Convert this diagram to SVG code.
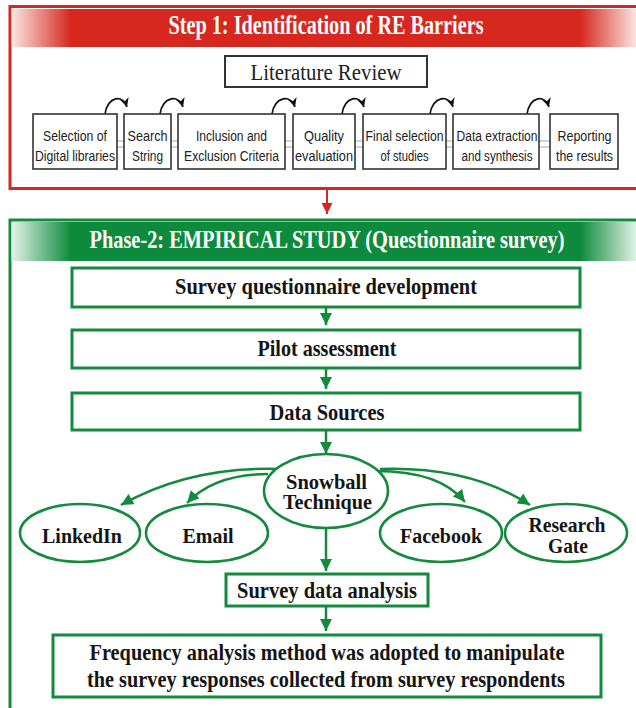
<svg xmlns="http://www.w3.org/2000/svg" width="636" height="708" viewBox="0 0 636 708">
  <defs>
    <linearGradient id="gRed" x1="0" y1="0" x2="1" y2="0">
      <stop offset="0" stop-color="#fbe6e2"/>
      <stop offset="0.095" stop-color="#d6281e"/>
      <stop offset="0.91" stop-color="#d6281e"/>
      <stop offset="1" stop-color="#fbe6e2"/>
    </linearGradient>
    <linearGradient id="gGreen" x1="0" y1="0" x2="1" y2="0">
      <stop offset="0" stop-color="#e3f3e8"/>
      <stop offset="0.095" stop-color="#0e8a3c"/>
      <stop offset="0.91" stop-color="#0e8a3c"/>
      <stop offset="1" stop-color="#e3f3e8"/>
    </linearGradient>
    <marker id="arrG" viewBox="0 0 10 10" refX="10" refY="5" markerUnits="userSpaceOnUse" markerWidth="13" markerHeight="12" orient="auto">
      <path d="M0,0 L10,5 L0,10 z" fill="#138a3c"/>
    </marker>
    <marker id="arrR" viewBox="0 0 10 10" refX="10" refY="5" markerUnits="userSpaceOnUse" markerWidth="12" markerHeight="11" orient="auto">
      <path d="M0,0 L10,5 L0,10 z" fill="#d6281e"/>
    </marker>
    <marker id="arrK" viewBox="0 0 10 10" refX="10" refY="5" markerUnits="userSpaceOnUse" markerWidth="9" markerHeight="9" orient="auto">
      <path d="M0,0 L10,5 L0,10 L3,5 z" fill="#111"/>
    </marker>
  </defs>
  <style>
    .title { font-family: "Liberation Serif", "Times New Roman", serif; font-weight: bold; fill: #ffffff; }
    .lit { font-family: "Liberation Serif", "Times New Roman", serif; font-size: 23px; fill: #222; }
    .sm { font-family: "Liberation Sans", Arial, sans-serif; font-size: 15.5px; fill: #222; }
    .bt { font-family: "Liberation Serif", "Times New Roman", serif; font-weight: bold; font-size: 23px; fill: #151515; }
    .et { font-family: "Liberation Serif", "Times New Roman", serif; font-weight: bold; font-size: 21px; fill: #151515; }
    .smbox { fill: #fff; stroke: #333; stroke-width: 1.6; }
    .gbox { fill: #fff; stroke: #138a3c; stroke-width: 3; }
    .gell { fill: #fff; stroke: #138a3c; stroke-width: 2.6; }
    .gline { stroke: #138a3c; stroke-width: 2.5; fill: none; }
    .kline { stroke: #111; stroke-width: 1.6; fill: none; }
    .dbl { stroke: #b5b5b5; stroke-width: 1.2; }
  </style>
  <rect width="636" height="708" fill="#ffffff"/>

  <!-- Step 1 container -->
  <g id="step1">
    <rect x="10" y="6.5" width="640" height="182" fill="#fff" stroke="#d6281e" stroke-width="3"/>
    <rect x="11.5" y="9" width="625" height="38" fill="url(#gRed)"/>
    <text class="title" x="326" y="34" font-size="27" text-anchor="middle" textLength="315" lengthAdjust="spacingAndGlyphs">Step 1: Identification of RE Barriers</text>
  </g>

  <g id="literature-review">
    <rect x="225" y="56" width="202" height="31" fill="#fff" stroke="#333" stroke-width="2"/>
    <text class="lit" x="326" y="80" text-anchor="middle" textLength="151" lengthAdjust="spacingAndGlyphs">Literature Review</text>
  </g>

  <!-- Step 1 connectors -->
  <g id="step1-connectors">
    <line class="dbl" x1="117" y1="141" x2="124" y2="141"/><line class="dbl" x1="117" y1="147" x2="124" y2="147"/>
    <line class="dbl" x1="171" y1="141" x2="178" y2="141"/><line class="dbl" x1="171" y1="147" x2="178" y2="147"/>
    <line class="dbl" x1="285" y1="141" x2="293" y2="141"/><line class="dbl" x1="285" y1="147" x2="293" y2="147"/>
    <line class="dbl" x1="355" y1="141" x2="363" y2="141"/><line class="dbl" x1="355" y1="147" x2="363" y2="147"/>
    <line class="dbl" x1="446" y1="141" x2="453" y2="141"/><line class="dbl" x1="446" y1="147" x2="453" y2="147"/>
    <line class="dbl" x1="539" y1="141" x2="550" y2="141"/><line class="dbl" x1="539" y1="147" x2="550" y2="147"/>
    <path class="kline" d="M105,114 C108,96 123,94 127,107" marker-end="url(#arrK)"/>
    <path class="kline" d="M160,114 C163,96 179,94 183,107" marker-end="url(#arrK)"/>
    <path class="kline" d="M272,114 C275,96 291,94 295,107" marker-end="url(#arrK)"/>
    <path class="kline" d="M342,114 C345,96 360,94 364,107" marker-end="url(#arrK)"/>
    <path class="kline" d="M430,114 C433,96 449,94 453,107" marker-end="url(#arrK)"/>
    <path class="kline" d="M527,114 C530,96 545,94 549,107" marker-end="url(#arrK)"/>
  </g>

  <g id="selection">
    <rect class="smbox" x="33" y="114" width="84" height="55"/>
    <text class="sm" x="75" y="141" text-anchor="middle" textLength="64" lengthAdjust="spacingAndGlyphs">Selection of</text>
    <text class="sm" x="75" y="161" text-anchor="middle" textLength="80" lengthAdjust="spacingAndGlyphs">Digital libraries</text>
  </g>
  <g id="search">
    <rect class="smbox" x="124" y="114" width="47" height="55"/>
    <text class="sm" x="147.5" y="141" text-anchor="middle" textLength="40" lengthAdjust="spacingAndGlyphs">Search</text>
    <text class="sm" x="147.5" y="161" text-anchor="middle" textLength="31" lengthAdjust="spacingAndGlyphs">String</text>
  </g>
  <g id="inclusion">
    <rect class="smbox" x="178" y="114" width="107" height="55"/>
    <text class="sm" x="231.5" y="141" text-anchor="middle" textLength="71" lengthAdjust="spacingAndGlyphs">Inclusion and</text>
    <text class="sm" x="231.5" y="161" text-anchor="middle" textLength="95" lengthAdjust="spacingAndGlyphs">Exclusion Criteria</text>
  </g>
  <g id="quality">
    <rect class="smbox" x="293" y="114" width="62" height="55"/>
    <text class="sm" x="324" y="141" text-anchor="middle" textLength="40" lengthAdjust="spacingAndGlyphs">Quality</text>
    <text class="sm" x="324" y="161" text-anchor="middle" textLength="58" lengthAdjust="spacingAndGlyphs">evaluation</text>
  </g>
  <g id="final-selection">
    <rect class="smbox" x="363" y="114" width="83" height="55"/>
    <text class="sm" x="404.5" y="141" text-anchor="middle" textLength="78" lengthAdjust="spacingAndGlyphs">Final selection</text>
    <text class="sm" x="404.5" y="161" text-anchor="middle" textLength="48" lengthAdjust="spacingAndGlyphs">of studies</text>
  </g>
  <g id="data-extraction">
    <rect class="smbox" x="453" y="114" width="86" height="55"/>
    <text class="sm" x="497" y="141" text-anchor="middle" textLength="81" lengthAdjust="spacingAndGlyphs">Data extraction</text>
    <text class="sm" x="497" y="161" text-anchor="middle" textLength="71" lengthAdjust="spacingAndGlyphs">and synthesis</text>
  </g>
  <g id="reporting">
    <rect class="smbox" x="550" y="114" width="68" height="55"/>
    <text class="sm" x="584.5" y="141" text-anchor="middle" textLength="54" lengthAdjust="spacingAndGlyphs">Reporting</text>
    <text class="sm" x="584.5" y="161" text-anchor="middle" textLength="57" lengthAdjust="spacingAndGlyphs">the results</text>
  </g>

  <!-- Phase 2 container -->
  <g id="phase2">
    <rect x="10" y="220" width="640" height="500" fill="#fff" stroke="#138a3c" stroke-width="3"/>
    <rect x="11.5" y="222" width="625" height="39" fill="url(#gGreen)"/>
    <text class="title" x="327" y="248" font-size="26" text-anchor="middle" textLength="475" lengthAdjust="spacingAndGlyphs">Phase-2: EMPIRICAL STUDY (Questionnaire survey)</text>
  </g>

  <!-- Connectors -->
  <g id="connectors">
    <line x1="327" y1="190" x2="327" y2="214" stroke="#d6281e" stroke-width="2" marker-end="url(#arrR)"/>
    <line class="gline" x1="326" y1="308" x2="326" y2="325" marker-end="url(#arrG)"/>
    <line class="gline" x1="326" y1="369" x2="326" y2="389" marker-end="url(#arrG)"/>
    <line class="gline" x1="326" y1="431" x2="326" y2="454" marker-end="url(#arrG)"/>
    <line class="gline" x1="326" y1="528" x2="326" y2="571" marker-end="url(#arrG)"/>
    <line class="gline" x1="326" y1="606" x2="326" y2="631" marker-end="url(#arrG)"/>
    <path class="gline" d="M280,469 Q190,466 121,505" marker-end="url(#arrG)"/>
    <path class="gline" d="M268,474 Q214,474 187,503" marker-end="url(#arrG)"/>
    <path class="gline" d="M376,471 Q440,471 465,502" marker-end="url(#arrG)"/>
    <path class="gline" d="M380,469 Q470,466 530,505" marker-end="url(#arrG)"/>
  </g>

  <g id="survey-development">
    <rect class="gbox" x="72" y="268" width="508" height="39"/>
    <text class="bt" x="326" y="294" text-anchor="middle" textLength="302" lengthAdjust="spacingAndGlyphs">Survey questionnaire development</text>
  </g>
  <g id="pilot-assessment">
    <rect class="gbox" x="72" y="330" width="508" height="38"/>
    <text class="bt" x="327" y="356" text-anchor="middle" textLength="139" lengthAdjust="spacingAndGlyphs">Pilot assessment</text>
  </g>
  <g id="data-sources">
    <rect class="gbox" x="72" y="393" width="508" height="37"/>
    <text class="bt" x="327" y="420" text-anchor="middle" textLength="115" lengthAdjust="spacingAndGlyphs">Data Sources</text>
  </g>

  <g id="snowball">
    <ellipse class="gell" cx="326" cy="491" rx="62" ry="37"/>
    <text class="et" x="326.5" y="489" text-anchor="middle" textLength="81" lengthAdjust="spacingAndGlyphs">Snowball</text>
    <text class="et" x="327.5" y="509" text-anchor="middle" textLength="89" lengthAdjust="spacingAndGlyphs">Technique</text>
  </g>
  <g id="linkedin">
    <ellipse class="gell" cx="80" cy="533" rx="60" ry="29"/>
    <text class="et" x="82" y="543" text-anchor="middle" textLength="80" lengthAdjust="spacingAndGlyphs">LinkedIn</text>
  </g>
  <g id="email">
    <ellipse class="gell" cx="207" cy="533" rx="61" ry="29"/>
    <text class="et" x="208" y="543" text-anchor="middle" textLength="51" lengthAdjust="spacingAndGlyphs">Email</text>
  </g>
  <g id="facebook">
    <ellipse class="gell" cx="441" cy="533" rx="61" ry="29"/>
    <text class="et" x="441" y="543" text-anchor="middle" textLength="82" lengthAdjust="spacingAndGlyphs">Facebook</text>
  </g>
  <g id="research-gate">
    <ellipse class="gell" cx="566" cy="533" rx="61" ry="29"/>
    <text class="et" x="567" y="532" text-anchor="middle" textLength="77" lengthAdjust="spacingAndGlyphs">Research</text>
    <text class="et" x="568" y="553" text-anchor="middle" textLength="40" lengthAdjust="spacingAndGlyphs">Gate</text>
  </g>

  <g id="survey-data-analysis">
    <rect class="gbox" x="226" y="574" width="202" height="32"/>
    <text class="bt" x="327" y="598" text-anchor="middle" textLength="180" lengthAdjust="spacingAndGlyphs">Survey data analysis</text>
  </g>
  <g id="frequency-analysis">
    <rect class="gbox" x="53" y="635" width="548" height="62"/>
    <text class="bt" x="327" y="660" text-anchor="middle" textLength="475" lengthAdjust="spacingAndGlyphs">Frequency analysis method was adopted to manipulate</text>
    <text class="bt" x="326" y="687" text-anchor="middle" textLength="478" lengthAdjust="spacingAndGlyphs">the survey responses collected from survey respondents</text>
  </g>
</svg>
